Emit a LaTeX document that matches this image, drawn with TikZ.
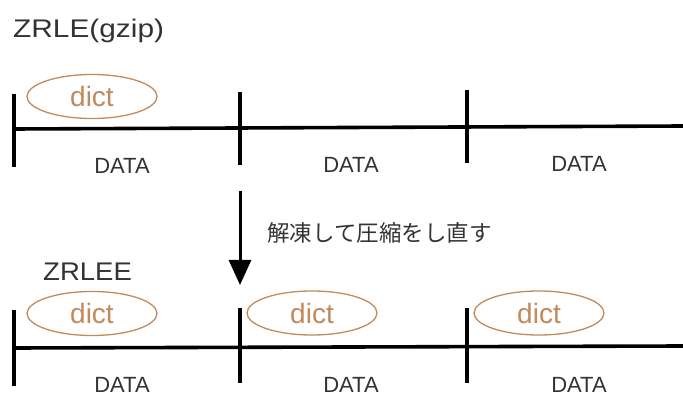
\documentclass[tikz,border=0pt]{standalone}
\usepackage{fontspec}
\setmainfont{Liberation Sans}
\newfontfamily\cjk{Noto Sans CJK JP}
\usetikzlibrary{arrows.meta,shapes.geometric}
\definecolor{dictc}{HTML}{C08A5C}
\definecolor{txt}{HTML}{333333}
\tikzset{
  seg/.style={line width=3.6pt, black},
  tick/.style={line width=3.6pt, black},
  dictnode/.style={draw=dictc, line width=1.3pt, ellipse, minimum width=130pt, minimum height=44pt, inner sep=0pt, text=dictc, font=\fontsize{28}{30}\selectfont},
  datalbl/.style={text=txt, anchor=base, font=\fontsize{22}{24}\selectfont},
  title/.style={text=txt, anchor=base west, inner sep=0pt, font=\fontsize{25.5}{28}\selectfont},
}
\begin{document}
\begin{tikzpicture}[x=1pt,y=-1pt]
\useasboundingbox (0,0) rectangle (683,398);
\node[title] (t1) at (13,37.7) {\scalebox{1.17}[1]{ZRLE(gzip)}};
% top row
\coordinate (a0) at (14,129);
\coordinate (a3) at (683,126);
\draw[seg] (a0) -- (a3);
\coordinate (p1t) at (14,94); \coordinate (p1b) at (14,167);
\coordinate (p2t) at (240,92); \coordinate (p2b) at (240,165);
\coordinate (p3t) at (467,90); \coordinate (p3b) at (467,163);
\draw[tick] (p1t) -- (p1b);
\draw[tick] (p2t) -- (p2b);
\draw[tick] (p3t) -- (p3b);
\node[dictnode] (d0) at (92,96.5) {dict};
\node[datalbl] (l1) at (122,174) {DATA};
\node[datalbl] (l2) at (351,173) {DATA};
\node[datalbl] (l3) at (579,172) {DATA};
% arrow
\coordinate (ar1) at (240,191);
\coordinate (ar2) at (240,285);
\draw[line width=3pt, -{Triangle[width=22pt,length=25pt]}] (ar1) -- (ar2);
\node[text=txt, anchor=west, inner sep=0pt, font=\cjk\fontsize{22.5}{25}\selectfont] (jp) at (267,233) {解凍して圧縮をし直す};
\node[title] (t2) at (43,280) {\scalebox{1.08}[1]{ZRLEE}};
% bottom row
\coordinate (b0) at (14,348);
\coordinate (b3) at (683,346);
\draw[seg] (b0) -- (b3);
\coordinate (q1t) at (14,310); \coordinate (q1b) at (14,386);
\coordinate (q2t) at (240,308); \coordinate (q2b) at (240,383);
\coordinate (q3t) at (467,308); \coordinate (q3b) at (467,383);
\draw[tick] (q1t) -- (q1b);
\draw[tick] (q2t) -- (q2b);
\draw[tick] (q3t) -- (q3b);
\node[dictnode] (e1) at (92,313.5) {dict};
\node[dictnode] (e2) at (312,313) {dict};
\node[dictnode] (e3) at (539,313) {dict};
\node[datalbl] (m1) at (122,392) {DATA};
\node[datalbl] (m2) at (351,392) {DATA};
\node[datalbl] (m3) at (579,392) {DATA};
\end{tikzpicture}
\end{document}
